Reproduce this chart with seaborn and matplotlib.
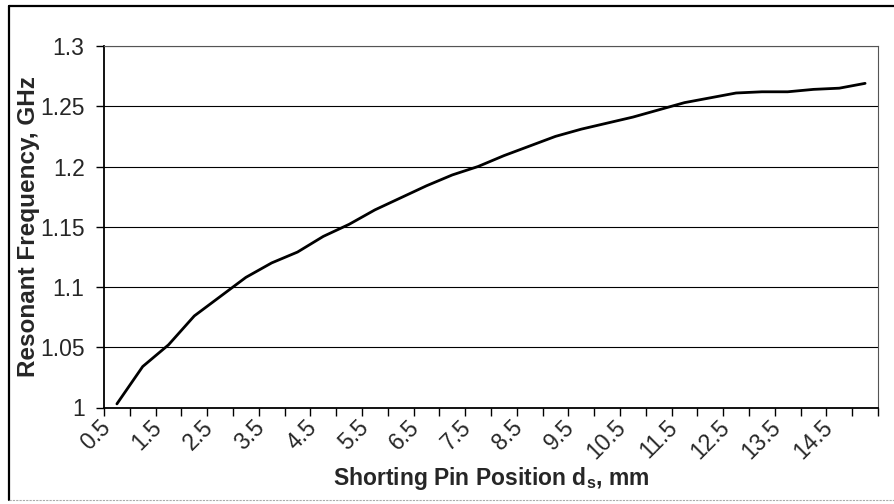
import numpy as np
import pandas as pd
import matplotlib
matplotlib.use("Agg")
import matplotlib.pyplot as plt
import seaborn as sns
from matplotlib.lines import Line2D

positions = ["0.5", "1", "1.5", "2", "2.5", "3", "3.5", "4", "4.5", "5",
             "5.5", "6", "6.5", "7", "7.5", "8", "8.5", "9", "9.5", "10",
             "10.5", "11", "11.5", "12", "12.5", "13", "13.5", "14", "14.5", "15"]
freq_ghz = [1.003, 1.034, 1.052, 1.076, 1.092, 1.108, 1.120, 1.129, 1.142, 1.152,
            1.164, 1.174, 1.184, 1.193, 1.200, 1.209, 1.217, 1.225, 1.231, 1.236,
            1.241, 1.247, 1.253, 1.257, 1.261, 1.262, 1.262, 1.264, 1.265, 1.269]
y_ticks = [1.0, 1.05, 1.1, 1.15, 1.2, 1.25, 1.3]
y_tick_labels = ["1", "1.05", "1.1", "1.15", "1.2", "1.25", "1.3"]

sns.set_theme(style="white")
plt.rcParams['font.family'] = ['Liberation Sans', 'DejaVu Sans']

df = pd.DataFrame({"idx": np.arange(len(positions)), "freq": freq_ghz})

fig = plt.figure(figsize=(8.94, 5.04), dpi=100)
ax = fig.add_axes([104 / 894, 1 - 407.5 / 504, (878 - 104) / 894, (407.5 - 46) / 504])

sns.lineplot(data=df, x="idx", y="freq", ax=ax, color="black", linewidth=2.0)

n = len(positions)
ax.set_xlim(-0.5, n - 0.5)
ax.set_ylim(1.0, 1.3)

ax.set_yticks(y_ticks)
ax.set_yticklabels(y_tick_labels)
ax.yaxis.grid(True, color="black", linewidth=0.8)
ax.xaxis.grid(False)
ax.set_axisbelow(True)

ax.set_xticks(np.arange(n + 1) - 0.5)
ax.set_xticklabels([])
lab_idx = np.arange(0, n, 2)
ax.set_xticks(lab_idx - 0.4, minor=True)
ax.set_xticklabels([positions[i] for i in lab_idx], minor=True,
                   rotation=45, ha="right", va="center", rotation_mode="anchor")
ax.tick_params(axis="x", which="minor", length=0, pad=12, labelsize=16.5)
ax.tick_params(axis="x", which="major", length=6, width=1, color="black",
               direction="out", bottom=True)
ax.tick_params(axis="y", which="major", length=6, width=1, color="black",
               direction="out", left=True, labelsize=16.5, pad=8)

for s in ["left", "bottom"]:
    ax.spines[s].set_color("black")
    ax.spines[s].set_linewidth(1.3)
for s in ["top", "right"]:
    ax.spines[s].set_color("#555555")
    ax.spines[s].set_linewidth(0.8)

ax.set_xlabel("Shorting Pin Position d$_\\mathregular{s}$, mm", fontsize=16.5,
              fontweight="bold")
ax.set_ylabel("Resonant Frequency, GHz", fontsize=17.5, fontweight="bold")
ax.xaxis.set_label_coords(0.5, -(478 - 407.5) / (407.5 - 46), transform=ax.transAxes)
ax.xaxis.label.set_va("center")
ax.yaxis.set_label_coords((29 - 104) / (878 - 104), 0.5)
ax.yaxis.label.set_va("center")

# outer chart frame
fig.add_artist(Line2D([9 / 894, 9 / 894], [1 - 6 / 504, 1 - 500 / 504],
                      transform=fig.transFigure, color="black", linewidth=1.6))
fig.add_artist(Line2D([9 / 894, 1.0], [1 - 6 / 504, 1 - 6 / 504],
                      transform=fig.transFigure, color="black", linewidth=1.6))
fig.add_artist(Line2D([9 / 894, 1.0], [1 - 500 / 504, 1 - 500 / 504],
                      transform=fig.transFigure, color="#aaaaaa", linewidth=0.8,
                      linestyle=(0, (2, 1))))

fig.savefig("out.png", dpi=100, facecolor="white")
